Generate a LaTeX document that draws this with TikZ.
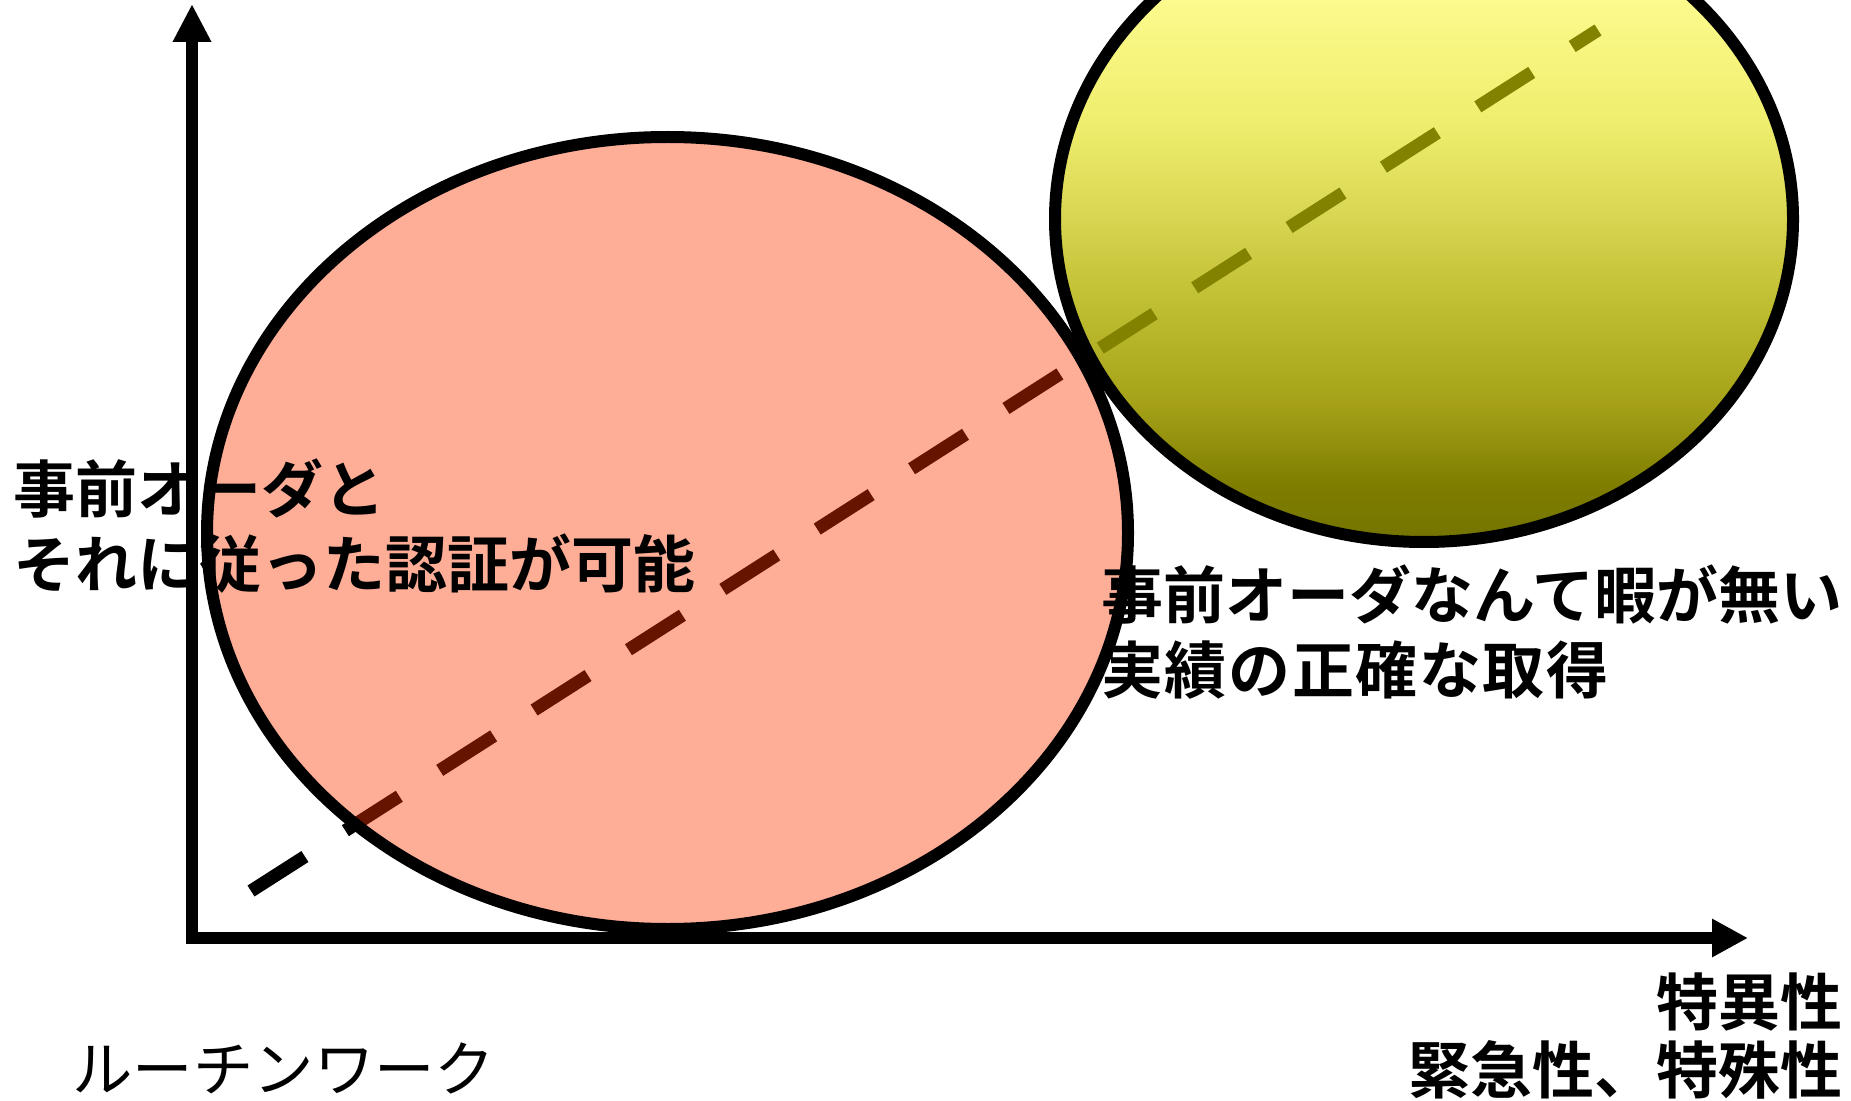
\documentclass[tikz,border=0pt]{standalone}
\usepackage{fontspec}
\newfontfamily\jpb{Noto Sans CJK JP Bold}
\newfontfamily\jpr{Noto Sans CJK JP}
\usetikzlibrary{arrows.meta}
\definecolor{salmonfill}{RGB}{254,173,151}
\definecolor{dashred}{RGB}{102,20,0}
\definecolor{dasholive}{RGB}{130,130,0}
\definecolor{yA}{RGB}{115,115,0}
\definecolor{yB}{RGB}{128,126,0}
\definecolor{yC}{RGB}{165,162,25}
\definecolor{yD}{RGB}{192,190,50}
\definecolor{yE}{RGB}{215,212,80}
\definecolor{yF}{RGB}{240,238,110}
\definecolor{yG}{RGB}{252,250,140}
\definecolor{yH}{RGB}{255,255,150}
\pgfdeclareverticalshading{yellowgrad}{100bp}{color(0bp)=(yA); color(25bp)=(yA); color(29.6bp)=(yB); color(35.8bp)=(yC); color(43.6bp)=(yD); color(49.8bp)=(yE); color(57.6bp)=(yF); color(67bp)=(yG); color(75bp)=(yH); color(100bp)=(yH)}
\tikzset{
  axisline/.style={line width=6pt, line join=miter, {Triangle[length=19pt,width=18pt]}-{Triangle[length=18pt,width=18pt]}},
  ellout/.style={line width=6pt, draw=black},
  dashline/.style={line width=6.5pt, dash pattern=on 32pt off 24pt},
  boldtxt/.style={inner sep=0pt, font=\jpb\fontsize{31}{38}\selectfont},
  regtxt/.style={inner sep=0pt, font=\jpr\fontsize{30.2}{36}\selectfont}
}
\begin{document}
\begin{tikzpicture}[x=0.5pt,y=-0.5pt]
\useasboundingbox (0,0) rectangle (1851,1101);
\clip (0,0) rectangle (1851,1101);
% key points
\coordinate (O) at (192,938);
\coordinate (Ytip) at (192,4);
\coordinate (Xtip) at (1748,938);
\coordinate (S) at (251,891);
\coordinate (E) at (1598,30);
\coordinate (Rc) at (667.5,533);
\coordinate (Yc) at (1424,219);
% dashed trend line (black part, outside the ellipses)
\draw[dashline, black] (S) -- (E);
% red ellipse
\fill[salmonfill] (Rc) ellipse [x radius=230.25pt, y radius=198pt];
\begin{scope}
  \clip (Rc) ellipse [x radius=230.25pt, y radius=198pt];
  \draw[dashline, dashred] (S) -- (E);
\end{scope}
\draw[ellout] (Rc) ellipse [x radius=230.25pt, y radius=198pt];
% yellow ellipse
\fill[shading=yellowgrad] (Yc) ellipse [x radius=184.5pt, y radius=161.5pt];
\begin{scope}
  \clip (Yc) ellipse [x radius=184.5pt, y radius=161.5pt];
  \draw[dashline, dasholive] (S) -- (E);
\end{scope}
\draw[ellout] (Yc) ellipse [x radius=184.5pt, y radius=161.5pt];
% axes
\draw[axisline] (Ytip) -- (O) -- (Xtip);
% texts
\node[boldtxt, anchor=west] (l1a) at (13,488) {事前オーダと};
\node[boldtxt, anchor=west] (l1b) at (13,564) {それに従った認証が可能};
\node[boldtxt, anchor=west] (r1a) at (1101,594) {事前オーダなんて暇が無い};
\node[boldtxt, anchor=west] (r1b) at (1101,670) {\addfontfeature{LetterSpace=2.5}実績の正確な取得};
\node[regtxt, anchor=west] (rw) at (72,1068) {ルーチンワーク};
\node[boldtxt, anchor=east] (x1) at (1843,1002) {特異性};
\node[boldtxt, anchor=east] (x2) at (1843,1070) {緊急性、特殊性};
\end{tikzpicture}
\end{document}
